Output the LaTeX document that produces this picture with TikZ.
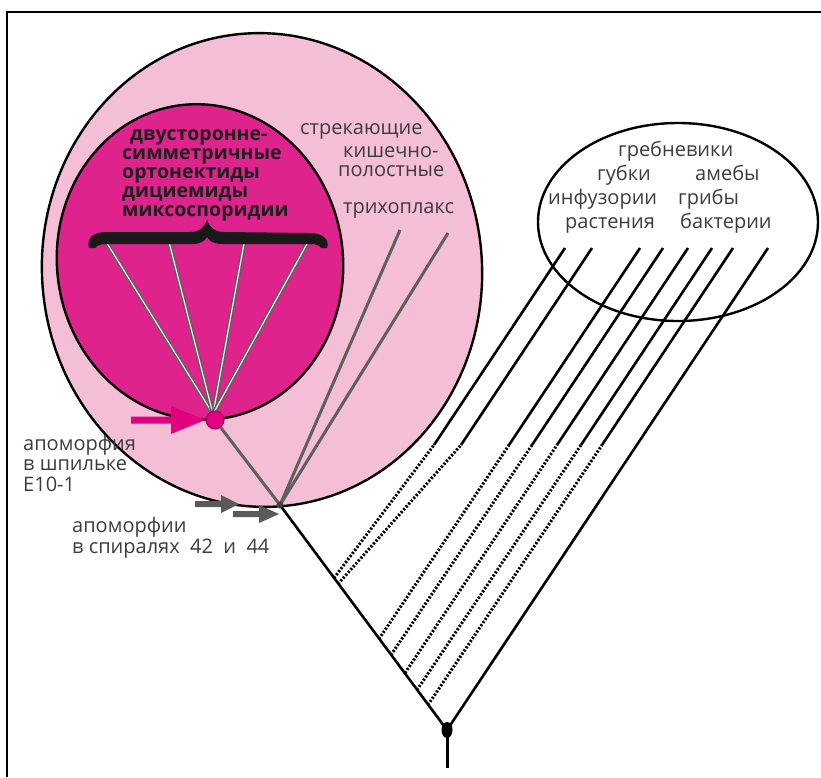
\documentclass[tikz,border=0pt]{standalone}
\usepackage{fontspec}
\setmainfont{Open Sans}
\definecolor{lightpink}{RGB}{245,190,215}
\definecolor{magentaA}{RGB}{226,0,126}
\definecolor{magentaF}{RGB}{222,36,140}
\definecolor{txtgray}{RGB}{60,60,60}
\definecolor{linegray}{RGB}{95,95,95}
\definecolor{arrowgray}{RGB}{90,90,90}
\begin{document}
\begin{tikzpicture}[x=1pt,y=-1pt,
  lbl/.style={anchor=base west, inner sep=0, text=txtgray, font=\fontsize{20}{20}\selectfont},
  lblblock/.style={anchor=base west, inner sep=0, text=txtgray, align=left, font=\fontsize{20}{#1}\selectfont},
  bld/.style={anchor=base west, inner sep=0, text=black!88, align=left, font=\fontsize{19.5}{18.8}\selectfont\bfseries},
  dotline/.style={line width=3, dash pattern=on 2.1pt off 1.7pt},
  solline/.style={line width=2.6},
  grayline/.style={linegray, line width=3},
  stripe/.style={white!85!gray, line width=1.2},
]
\useasboundingbox (0,0) rectangle (821,777);
% frame
\draw[line width=1.4] (7,777) -- (7,12) -- (821,12);

% outer pink ellipse
\draw[fill=lightpink, line width=2.4, rotate around={5:(262,270)}] (262,270) ellipse [x radius=220, y radius=237];

% inner magenta ellipse
\draw[fill=magentaF, line width=2.4, rotate around={7:(200,262)}] (200,262) ellipse [x radius=143, y radius=158];

% coordinates
\coordinate (N) at (280,505);
\coordinate (R) at (447,730);
\coordinate (Rb) at (447,768);
\coordinate (C1) at (400,230);
\coordinate (C2) at (448,233);
\coordinate (E1) at (105,240);
\coordinate (E2) at (168,238);
\coordinate (E3) at (245,238);
\coordinate (E4) at (308,242);
\coordinate (Dc) at (213,414);

% fan lines to brace
\foreach \e in {E1,E2,E3,E4} {
  \draw[linegray, line width=4.2] (Dc) -- (\e);
  \draw[stripe] (Dc) -- (\e);
}

% brace
\fill[black!90] (89,248) .. controls (86,238) and (94,232) .. (106,232) -- (190,232)
  .. controls (199,232) and (204,228) .. (207,220) .. controls (210,228) and (215,232) .. (224,232)
  -- (310,233) .. controls (322,233) and (330,239) .. (327,248)
  -- (321,248) .. controls (319,245) and (316,244) .. (310,244) -- (222,244)
  .. controls (214,244) and (209,241) .. (207,237) .. controls (205,241) and (200,244) .. (192,244)
  -- (106,244) .. controls (100,244) and (97,246) .. (95,248) -- cycle;

% magenta dot node
\node[circle, fill=magentaA, draw=magentaA!70!black, line width=1, minimum size=18, inner sep=0] (D) at (215,420) {};

% bold text inside magenta (base anchor = last line)
\node[bld] (groups) at (122,216) {\hspace*{8pt}двусторонне-\\симметричные\\ортонектиды\\дициемиды\\миксоспоридии};

% gray branches
\draw[grayline] (D) -- (N);
\draw[grayline] (N) -- (C1);
\draw[grayline] (N) -- (C2);

% labels upper middle
\node[lbl] (s1) at (300,134) {стрекающие};
\node[lblblock=19] (s2) at (338,176) {\hspace*{5pt}кишечно-\\полостные};
\node[lbl] (s4) at (343,213) {трихоплакс};

% right ellipse
\draw[line width=2.4] (678,222) ellipse [x radius=140, y radius=99];
\node[lbl] (r1) at (618,156) {гребневики};
\node[lbl] (r2) at (597,180) {губки};
\node[lbl] (r3) at (695,180) {амебы};
\node[lbl] (r4) at (548,204) {инфузории};
\node[lbl] (r5) at (678,204) {грибы};
\node[lbl] (r6) at (565,228) {растения};
\node[lbl] (r7) at (680,228) {бактерии};

% main black tree
\draw[solline] (N) -- (R);
\draw[line width=3] (R) -- (Rb);
\coordinate (T8) at (768,248);
\draw[solline] (R) -- (T8);

% side lines: branch point, transition, top
\foreach \bx/\by/\mx/\my/\tx/\ty in {
  334/578/434/445/565/248,
  338/584/461/445/592/248,
  379/639/509/445/640/248,
  391/655/532/445/663/248,
  405/673/557/445/688/248,
  417/690/581/445/712/248,
  428/705/602/445/733/248} {
  \coordinate (b) at (\bx,\by);
  \coordinate (m) at (\mx,\my);
  \coordinate (t) at (\tx,\ty);
  \draw[dotline] (b) -- (m);
  \draw[solline] (m) -- (t);
}

% node dots
\fill[black!75] (N) circle [radius=3.5];
\fill[black] (R) ellipse [x radius=5.5, y radius=8];

% magenta arrow
\fill[magentaA] (131,416.5) -- (171,416.5) -- (171,406) -- (205,420) -- (171,434) -- (171,423.5) -- (131,423.5) -- cycle;

% gray arrows
\fill[arrowgray] (195,501) -- (221,501) -- (221,495) -- (239,504) -- (221,513) -- (221,507) -- (195,507) -- cycle;
\fill[arrowgray] (233,511) -- (259,511) -- (259,505) -- (279,514) -- (259,523) -- (259,517) -- (233,517) -- cycle;

% left labels (base anchor = last line)
\node[lblblock=20.5] (a1) at (23,491) {апоморфия\\в шпильке\\E10-1};
\node[lblblock=21] (a4) at (72,553) {апоморфии\\в спиралях\ \ 42\ \ и\ \ 44};
\end{tikzpicture}
\end{document}
